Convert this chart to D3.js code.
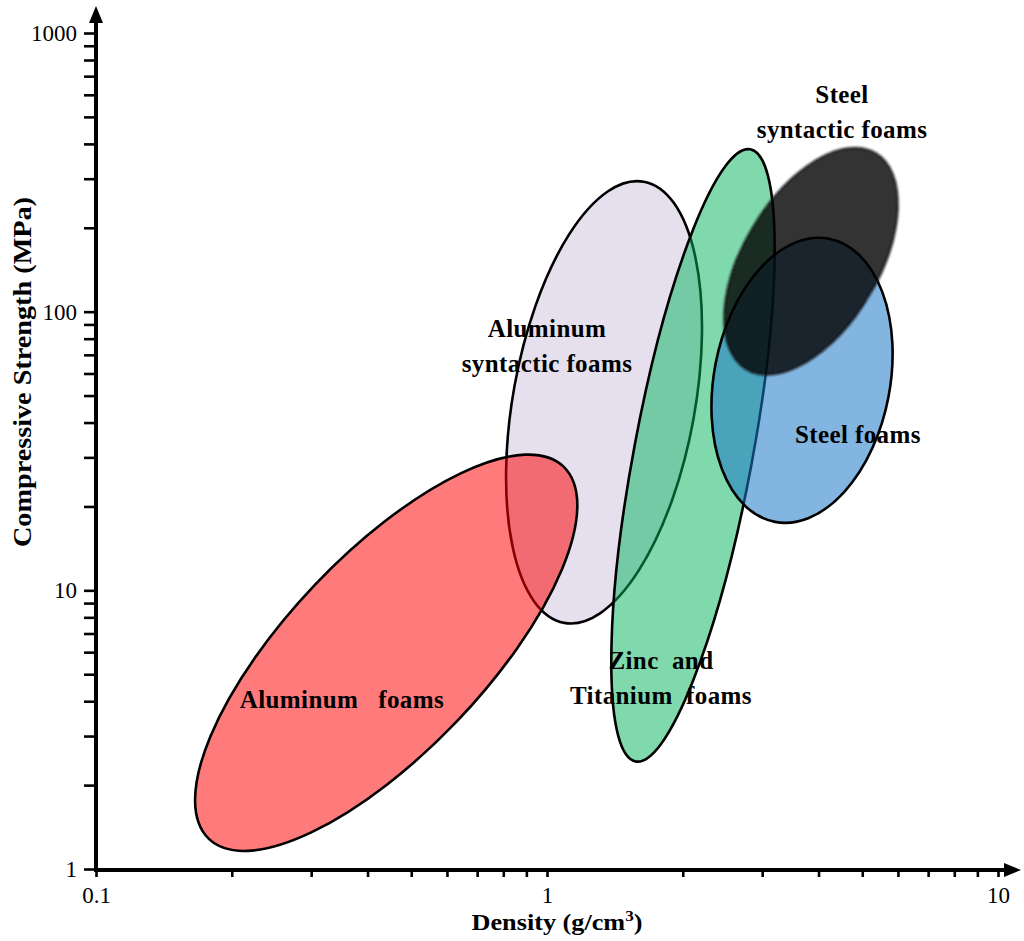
<!DOCTYPE html>
<html><head><meta charset="utf-8">
<script src="https://cdn.jsdelivr.net/npm/d3@7"></script>
<style>
body{margin:0;background:#fff}
svg{display:block}
text{font-family:"Liberation Serif","Times New Roman",serif;white-space:pre}
</style>
</head><body>
<svg id="chart" width="1024" height="941"></svg>
<script>
// ---- data ----
const materials = ["Aluminum syntactic foams", "Aluminum foams", "Zinc and Titanium foams", "Steel foams", "Steel syntactic foams"];
// ellipse centre (density g/cm3, strength MPa)
const centerDensity  = [1.338, 0.44, 2.107, 3.677, 3.85];
const centerStrength = [47.3, 5.97, 30.5, 56.7, 151.7];
// end of the long axis (density, strength)
const tipDensity  = [1.639, 1.088, 2.824, 4.22, 5.36];
const tipStrength = [292.7, 27.8, 382.4, 182.6, 370.9];
// short axis / long axis
const widthRatio = [0.406, 0.383, 0.19, 0.611, 0.536];
// labels
const labelLines = [["Aluminum", "syntactic foams"], ["Aluminum   foams"], ["Zinc  and", "Titanium  foams"], ["Steel foams"], ["Steel", "syntactic foams"]];
const labelDensity  = [1.0, 0.351, 1.789, 4.89, 4.51];
const labelStrength = [80.9, 3.79, 5.23, 33.9, 561];
const xTickLabels = [0.1, 1, 10];
const yTickLabels = [1, 10, 100, 1000];
const xTitle = "Density (g/cm";
const yTitle = "Compressive Strength (MPa)";

// ---- styles ----
const fills = ["rgb(230,224,238)", "rgba(255,0,0,0.52)", "rgba(0,180,90,0.5)", "rgba(30,120,200,0.55)", "rgba(0,0,0,0.8)"];
const blurred = [false, false, false, false, true];

const svg = d3.select("#chart");
const x = d3.scaleLog().domain([0.1, 10]).range([96, 998]);
const y = d3.scaleLog().domain([1, 1000]).range([869, 33]);

const defs = svg.append("defs");
defs.append("filter").attr("id", "soft").attr("x", "-10%").attr("y", "-10%").attr("width", "120%").attr("height", "120%")
  .append("feGaussianBlur").attr("stdDeviation", 1.0);

// ---- ellipses ----
const ell = materials.map((m, i) => {
  const cx = x(centerDensity[i]), cy = y(centerStrength[i]);
  const tx = x(tipDensity[i]), ty = y(tipStrength[i]);
  const a = Math.hypot(tx - cx, ty - cy);
  const ang = Math.atan2(ty - cy, tx - cx) * 180 / Math.PI;
  return {m, cx, cy, a, b: a * widthRatio[i], ang, fill: fills[i], blur: blurred[i]};
});

svg.append("g").selectAll("ellipse").data(ell).join("ellipse")
  .attr("cx", d => d.cx).attr("cy", d => d.cy)
  .attr("rx", d => d.a).attr("ry", d => d.b)
  .attr("transform", d => `rotate(${d.ang},${d.cx},${d.cy})`)
  .attr("fill", d => d.fill)
  .attr("stroke", d => d.blur ? "#111" : "#000")
  .attr("stroke-width", d => d.blur ? 1.5 : 2.6)
  .attr("filter", d => d.blur ? "url(#soft)" : null);

// ---- labels ----
const lab = svg.append("g").attr("font-size", 25).attr("font-weight", "bold").attr("fill", "#000")
  .attr("text-anchor", "middle").attr("letter-spacing", 0.4);
labelLines.forEach((lines, i) => {
  const t = lab.append("text").attr("x", x(labelDensity[i])).attr("y", y(labelStrength[i]));
  lines.forEach((ln, k) => {
    t.append("tspan").attr("x", x(labelDensity[i])).attr("dy", k === 0 ? 0 : 35).text(ln);
  });
});

// ---- axes ----
const isDecade = d => Math.abs(Math.log10(d) - Math.round(Math.log10(d))) < 1e-6;
const fmt = d => {
  const v = +Math.pow(10, Math.round(Math.log10(d))).toPrecision(6);
  return (isDecade(d) && xTickLabels.includes(v)) ? String(v) : "";
};
const fmtY = d => {
  const v = +Math.pow(10, Math.round(Math.log10(d))).toPrecision(6);
  return (isDecade(d) && yTickLabels.includes(v)) ? String(v) : "";
};

const axY = y(1) + 1;
const gx = svg.append("g").attr("transform", `translate(0,${axY})`)
  .call(d3.axisBottom(x).tickValues(x.ticks()).tickSize(7).tickFormat(fmt));
gx.select(".domain").remove();
gx.selectAll(".tick line").attr("stroke", "#000").attr("stroke-width", 2.6);
gx.selectAll(".tick text").attr("y", 33).attr("dy", 0).attr("font-size", 23).attr("fill", "#000")
  .attr("font-family", "'Liberation Serif',serif");

const gy = svg.append("g").attr("transform", "translate(96,0)")
  .call(d3.axisLeft(y).tickValues(y.ticks()).tickSize(12).tickPadding(7).tickFormat(fmtY));
gy.select(".domain").remove();
gy.selectAll(".tick line").attr("stroke", "#000").attr("stroke-width", 2.6);
gy.selectAll(".tick text").attr("font-size", 23).attr("fill", "#000").attr("dy", "0.33em")
  .attr("font-family", "'Liberation Serif',serif");

// axis lines with arrows
svg.append("line").attr("x1", 94).attr("x2", 1008).attr("y1", axY).attr("y2", axY).attr("stroke", "#000").attr("stroke-width", 4);
svg.append("line").attr("x1", 96).attr("x2", 96).attr("y1", axY + 2).attr("y2", 18).attr("stroke", "#000").attr("stroke-width", 4);
svg.append("path").attr("d", `M1021,${axY} L1004,${axY - 7} L1004,${axY + 7} Z`).attr("fill", "#000");
svg.append("path").attr("d", `M96,6 L89,23 L103,23 Z`).attr("fill", "#000");

// titles
const xt = svg.append("text").attr("x", 557).attr("y", 930).attr("text-anchor", "middle")
  .attr("font-size", 23).attr("font-weight", "bold").attr("fill", "#000")
  .attr("textLength", 171).attr("lengthAdjust", "spacingAndGlyphs");
xt.append("tspan").text(xTitle);
xt.append("tspan").attr("dy", -9).attr("font-size", 15).text("3");
xt.append("tspan").attr("dy", 9).text(")");

svg.append("text").attr("transform", "translate(31,372) rotate(-90)").attr("text-anchor", "middle")
  .attr("font-size", 26).attr("font-weight", "bold").attr("fill", "#000")
  .attr("textLength", 350).attr("lengthAdjust", "spacingAndGlyphs")
  .text(yTitle);
</script>
</body></html>
